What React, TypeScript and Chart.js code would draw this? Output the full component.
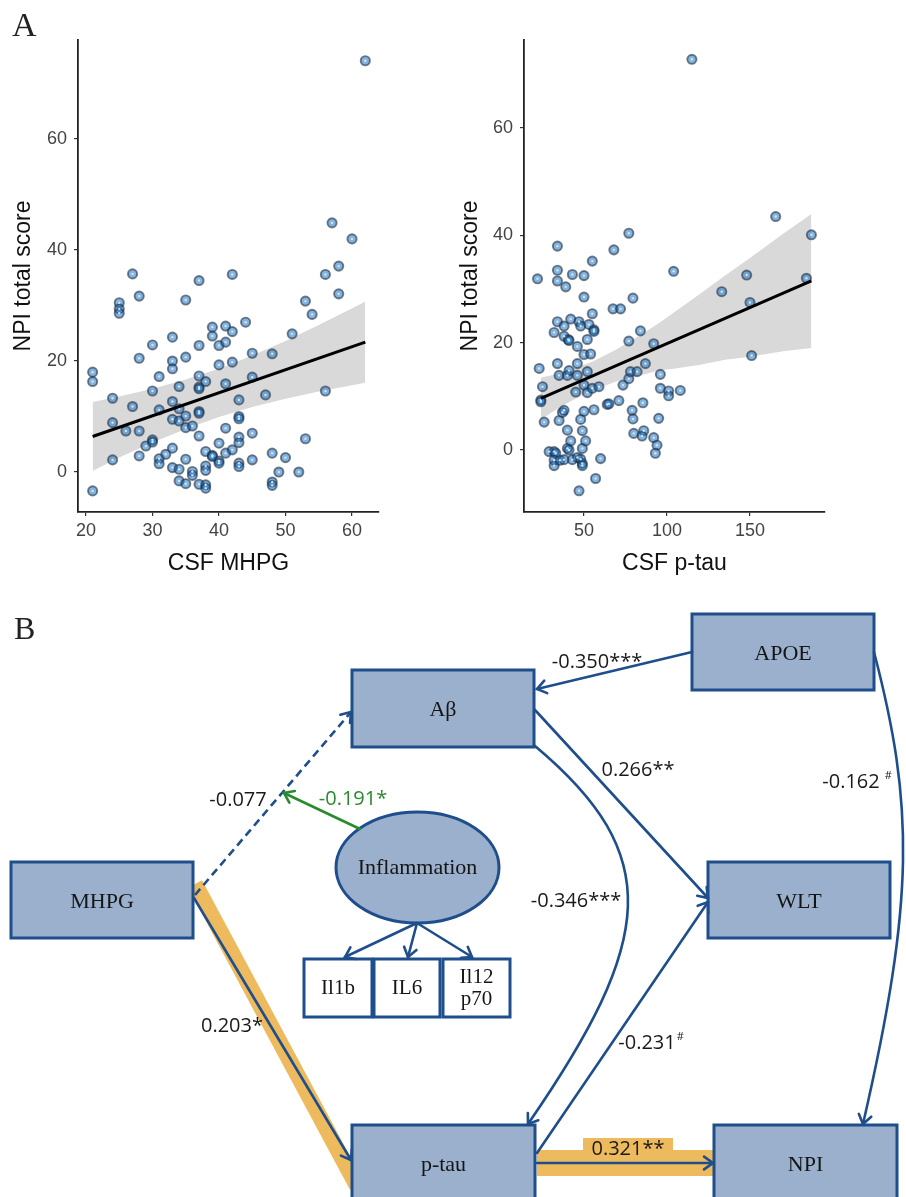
import React, { useEffect, useRef } from "react";
import { Chart, registerables } from "chart.js";

Chart.register(...registerables);

const SANS = '"Liberation Sans", Arial, sans-serif';
const SERIF = '"Liberation Serif", "Times New Roman", serif';
const COEF_FONT = '"Open Sans", sans-serif';

// ---------------- Panel A, left: CSF MHPG vs NPI total score ----------------
const mhpgX = [
  21, 21, 21, 24, 24, 24, 25, 25, 25, 26, 27, 27, 28, 28, 28, 28, 29, 30, 30, 30, 30,
  31, 31, 31, 31, 32, 33, 33, 33, 33, 33, 33, 33, 34, 34, 34, 34, 34, 35, 35, 35, 35, 35, 35,
  36, 36, 36, 37, 37, 37, 37, 37, 37, 37, 37, 37, 38, 38, 38, 38, 38, 38, 39, 39, 39, 39,
  40, 40, 40, 40, 40, 41, 41, 41, 41, 41, 42, 42, 42, 42, 43, 43, 43, 43, 43, 43, 43, 44,
  45, 45, 45, 45, 47, 48, 48, 48, 48, 49, 50, 51, 52, 53, 53, 54, 56, 56, 57, 58, 58, 60, 62,
];
const mhpgNpi = [
  18, 16.3, -3.4, 13.3, 8.9, 2.2, 30.5, 29.4, 28.6, 7.4, 35.7, 11.8, 31.7, 20.5, 7.4, 2.9, 4.7,
  22.9, 14.6, 5.8, 5.4, 17.2, 11.2, 2.4, 1.5, 3.2, 24.3, 20.0, 18.6, 12.7, 9.5, 4.3, 0.8,
  15.4, 11.4, 9.2, 0.5, -1.6, 31.0, 20.7, 10.1, 8.0, 2.3, -2.1, 8.3, 0.1, -0.6,
  34.5, 22.8, 17.3, 15.3, 15.0, 10.9, 10.6, 6.5, -2.2, 16.3, 3.7, 1.1, 0.3, -2.3, -2.9,
  26.1, 24.5, 3.0, 2.8, 22.8, 19.3, 5.2, 2.0, 1.6, 26.3, 23.4, 15.9, 7.9, 3.4,
  35.6, 25.3, 19.8, 4.0, 13.0, 10.0, 9.6, 6.3, 5.3, 1.6, 1.0, 27.0,
  21.4, 17.1, 7.0, 2.2, 13.9, 21.3, 3.4, -1.8, -2.4, 0.0, 2.6, 24.9, 0.0, 30.8, 6.0, 28.4,
  35.6, 14.6, 44.9, 37.1, 32.1, 42.0, 74.1,
];
const mhpgFitX = [21, 62];
const mhpgFitY = [6.4, 23.4];
const mhpgBandX = [21, 25, 30, 35, 40, 45, 50, 55, 62];
const mhpgBandHi = [12.6, 13.6, 15.0, 16.65, 18.6, 21.0, 23.6, 26.5, 30.7];
const mhpgBandLo = [0.2, 2.6, 5.3, 7.75, 9.9, 11.7, 13.2, 14.5, 16.1];
const mhpgTicks = [20, 30, 40, 50, 60];

// ---------------- Panel A, right: CSF p-tau vs NPI total score ----------------
const ptauX = [
  22, 23, 24, 24, 25, 26, 29, 32, 33, 32, 32, 32, 34, 34, 34, 34, 34, 35, 35, 35.5, 37,
  38, 38, 38, 38, 39, 40, 40, 40, 41, 40.5, 41, 41, 42, 42, 43, 43, 45, 46, 46, 46, 46,
  47, 47, 48, 48, 48, 49, 49, 49, 49, 50, 50, 50, 50, 50, 51, 52, 52, 52, 53, 54, 55, 55, 55,
  56, 56, 56, 57, 59, 60, 64, 65, 68, 67.5, 72, 71, 73.5, 77, 77, 77, 78, 79, 79.5, 79.5,
  80, 82, 84, 85.5, 86, 85, 87, 92, 92, 94, 93, 95, 96, 96, 101, 101, 104, 108, 115,
  133, 148, 150, 151, 165.5, 184, 187,
];
const ptauNpi = [
  31.9, 15.2, 9.3, 9.0, 11.8, 5.2, -0.3, -0.3, -0.6, -1.9, -2.9, 21.9, 38.0, 33.5, 31.5, 23.9,
  16.1, 13.9, 5.5, -1.9, 7.0, 7.4, 23.1, 21.2, -1.8, 30.4, 13.9, 3.7, 0.3, 0.0, 20.6, 20.4,
  14.8, 24.4, 1.7, 32.7, -1.8, 10.8, 19.3, 16.1, 13.9, -1.4, 23.9, -7.6, 23.1, 5.7, -1.7,
  3.6, 0.3, -2.5, -2.9, 32.5, 28.5, 17.8, 12.1, 7.2, 1.7, 20.6, 14.6, 10.7, 23.4, 17.9,
  35.2, 25.4, 11.5, 22.4, 22.1, 7.5, -5.3, 11.8, -1.6, 8.5, 8.6, 37.3, 26.3, 26.3, 9.2, 12.1,
  40.4, 20.3, 13.3, 14.6, 7.4, 5.8, 28.3, 3.1, 14.6, 22.2, 8.8, 3.6, 2.6, 16.1, 19.8, 2.3,
  0.9, -0.6, 5.9, 14.1, 11.5, 11.0, 10.1, 33.3, 11.1, 72.8, 29.5, 32.6, 27.5, 17.6, 43.5,
  32.0, 40.1,
];
const ptauFitX = [24, 187];
const ptauFitY = [9.6, 31.5];
const ptauBandX = [24, 30, 40, 55, 70, 85, 95, 105, 120, 135, 150, 170, 187];
const ptauBandHi = [13.5, 13.9, 14.75, 16.45, 18.8, 21.6, 23.6, 25.8, 29.1, 32.5, 35.8, 40.3, 44.0];
const ptauBandLo = [5.7, 6.9, 8.75, 11.15, 12.8, 14.0, 14.8, 15.2, 15.9, 16.8, 17.4, 18.4, 19.0];
const ptauTicks = [50, 100, 150];

const npiTicks = [0, 20, 40, 60];

// ---------------- Panel B: path model ----------------
const nodeLabels = ["MHPG", "Aβ", "APOE", "WLT", "p-tau", "NPI"];
const latentLabel = "Inflammation";
const indicatorLabels = [["Il1b"], ["IL6"], ["Il12", "p70"]];
// path coefficients, in edge order
const pathCoefs = ["-0.077", "-0.191*", "-0.350***", "0.266**", "-0.346***", "-0.231", "0.321**", "0.203*", "-0.162"];
const pathTrend = [false, false, false, false, false, true, false, false, true];

const BLUE = "#1F4E8C";
const BOXFILL = "#9BB0CD";
const ORANGE = "#EDBA5E";
const GREEN = "#2A8A2E";

type PanelProps = {
  left: number;
  width: number;
  xs: number[];
  ys: number[];
  fitX: number[];
  fitY: number[];
  bandX: number[];
  bandHi: number[];
  bandLo: number[];
  xMin: number;
  xMax: number;
  yMin: number;
  yMax: number;
  xTicks: number[];
  yTicks: number[];
  xTitle: string;
  yTitle: string;
  yAxisWidth: number;
  padRight: number;
  yTitlePad: number;
};

function ScatterPanel(p: PanelProps) {
  const ref = useRef<HTMLCanvasElement>(null);
  useEffect(() => {
    const pts = p.xs.map((x, i) => ({ x, y: p.ys[i] }));
    const chart = new Chart(ref.current as HTMLCanvasElement, {
      type: "line",
      data: {
        datasets: [
          {
            data: p.bandX.map((x, i) => ({ x, y: p.bandHi[i] })),
            borderWidth: 0,
            borderColor: "rgba(0,0,0,0)",
            pointRadius: 0,
            fill: "+1",
            backgroundColor: "#D9D9D9",
            order: 4,
          },
          {
            data: p.bandX.map((x, i) => ({ x, y: p.bandLo[i] })),
            borderWidth: 0,
            borderColor: "rgba(0,0,0,0)",
            pointRadius: 0,
            fill: false,
            order: 4,
          },
          {
            data: pts,
            showLine: false,
            pointRadius: 4.6,
            pointBackgroundColor: "rgba(20,110,190,0.52)",
            pointBorderColor: "rgba(30,45,65,0.6)",
            pointBorderWidth: 1.9,
            order: 2,
          },
          {
            data: pts,
            showLine: false,
            pointRadius: 1.2,
            pointBackgroundColor: "rgba(215,233,248,0.92)",
            pointBorderWidth: 0,
            order: 1,
          },
          {
            data: p.fitX.map((x, i) => ({ x, y: p.fitY[i] })),
            borderColor: "#000",
            borderWidth: 3,
            pointRadius: 0,
            fill: false,
            order: 0,
          },
        ],
      },
      options: {
        animation: false,
        responsive: false,
        events: [],
        plugins: { legend: { display: false }, tooltip: { enabled: false } },
        layout: { padding: { top: 40, right: p.padRight, left: 0, bottom: 0 } },
        scales: {
          x: {
            type: "linear",
            min: p.xMin,
            max: p.xMax,
            afterBuildTicks: (a: any) => {
              a.ticks = p.xTicks.map((v) => ({ value: v }));
            },
            afterFit: (s: any) => {
              s.height = 88;
            },
            grid: { drawOnChartArea: false, drawTicks: true, tickLength: 4, color: "#333", lineWidth: 1.2 },
            border: { display: true, color: "#222", width: 1.8 },
            ticks: { font: { family: SANS, size: 18 }, color: "#444", padding: 4, maxRotation: 0, autoSkip: false },
            title: { display: true, text: p.xTitle, font: { family: SANS, size: 23 }, color: "#111", padding: { top: 0, bottom: 23 } },
          },
          y: {
            type: "linear",
            min: p.yMin,
            max: p.yMax,
            afterBuildTicks: (a: any) => {
              a.ticks = p.yTicks.map((v) => ({ value: v }));
            },
            afterFit: (s: any) => {
              s.width = p.yAxisWidth;
            },
            grid: { drawOnChartArea: false, drawTicks: true, tickLength: 4, color: "#333", lineWidth: 1.2 },
            border: { display: true, color: "#222", width: 1.8 },
            ticks: { font: { family: SANS, size: 18 }, color: "#444", padding: 7, autoSkip: false },
            title: { display: true, text: p.yTitle, font: { family: SANS, size: 23 }, color: "#111", padding: { top: p.yTitlePad, bottom: 0 } },
          },
        },
      } as any,
    });
    return () => chart.destroy();
  }, []);
  return (
    <div style={{ position: "absolute", left: p.left, top: 0, width: p.width, height: 600 }}>
      <canvas ref={ref} width={p.width} height={600} style={{ display: "block", width: p.width, height: 600 }} />
    </div>
  );
}

// layout of the diagram (diagram units = canvas pixels of panel B)
const nodeRects = [
  [11, 262, 193, 338],
  [352, 70, 534, 147],
  [692, 14, 874, 90],
  [708, 262, 890, 338],
  [352, 525, 535, 601],
  [714, 525, 897, 601],
];
const latentEllipse = [417.5, 267.5, 81.5, 55.5];
const indicatorRects = [
  [304, 359, 372, 417],
  [374, 359, 440, 417],
  [443, 359, 510, 417],
];
const edgeGeom: any[] = [
  { from: [195, 295], to: [351, 112], dash: true },
  { from: [360, 229], to: [284, 193], color: GREEN },
  { from: [692, 52], to: [537, 89] },
  { from: [535, 110], to: [708, 298] },
  { from: [535, 146], c1: [665, 255], c2: [655, 340], to: [528, 524] },
  { from: [537, 553], to: [708, 302] },
  { from: [537, 563], to: [713, 563] },
  { from: [194, 298], to: [351, 560] },
  { from: [874, 52], c1: [914, 205], c2: [915, 298], to: [863, 524] },
  { from: [417, 323], to: [345, 357] },
  { from: [417, 323], to: [408, 357] },
  { from: [417, 323], to: [472, 357] },
];
const coefPos = [
  [238, 200],
  [353, 199],
  [597, 62],
  [638, 170],
  [576, 301],
  [647, 443],
  [628, 549],
  [232, 426],
  [851, 182],
];
// highlight band under MHPG -> p-tau, and under p-tau -> NPI
const mhpgHighlight = [[195, 284], [357, 586]];
const npiHighlight = [[537, 550, 714, 576], [583, 538, 673, 551]];

const diagramPlugin = {
  id: "pathDiagram",
  afterDraw(chart: any) {
    const ctx = chart.ctx as CanvasRenderingContext2D;
    const sx = chart.scales.x;
    const sy = chart.scales.y;
    const X = (v: number) => sx.getPixelForValue(v);
    const Y = (v: number) => sy.getPixelForValue(v);
    ctx.save();

    // highlighted (significant mediation) paths
    ctx.fillStyle = ORANGE;
    ctx.strokeStyle = ORANGE;
    ctx.lineWidth = 16;
    ctx.lineCap = "butt";
    ctx.beginPath();
    ctx.moveTo(X(mhpgHighlight[0][0]), Y(mhpgHighlight[0][1]));
    ctx.lineTo(X(mhpgHighlight[1][0]), Y(mhpgHighlight[1][1]));
    ctx.stroke();
    npiHighlight.forEach((r) => ctx.fillRect(X(r[0]), Y(r[1]), X(r[2]) - X(r[0]), Y(r[3]) - Y(r[1])));

    // observed variables
    ctx.lineWidth = 3;
    ctx.strokeStyle = BLUE;
    nodeRects.forEach((r, i) => {
      ctx.fillStyle = BOXFILL;
      ctx.fillRect(X(r[0]), Y(r[1]), X(r[2]) - X(r[0]), Y(r[3]) - Y(r[1]));
      ctx.strokeRect(X(r[0]), Y(r[1]), X(r[2]) - X(r[0]), Y(r[3]) - Y(r[1]));
      ctx.fillStyle = "#151515";
      ctx.font = `22px ${SERIF}`;
      ctx.textAlign = "center";
      ctx.textBaseline = "middle";
      ctx.fillText(nodeLabels[i], X((r[0] + r[2]) / 2), Y((r[1] + r[3]) / 2 + 2));
    });

    // latent variable
    const e = latentEllipse;
    ctx.beginPath();
    ctx.ellipse(X(e[0]), Y(e[1]), X(e[0] + e[2]) - X(e[0]), Y(e[1] + e[3]) - Y(e[1]), 0, 0, Math.PI * 2);
    ctx.fillStyle = BOXFILL;
    ctx.fill();
    ctx.stroke();
    ctx.fillStyle = "#151515";
    ctx.font = `22px ${SERIF}`;
    ctx.fillText(latentLabel, X(e[0]), Y(e[1] + 1));

    // indicators
    indicatorRects.forEach((r, i) => {
      ctx.fillStyle = "#fff";
      ctx.fillRect(X(r[0]), Y(r[1]), X(r[2]) - X(r[0]), Y(r[3]) - Y(r[1]));
      ctx.strokeRect(X(r[0]), Y(r[1]), X(r[2]) - X(r[0]), Y(r[3]) - Y(r[1]));
      ctx.fillStyle = "#151515";
      ctx.font = `21px ${SERIF}`;
      const lines = indicatorLabels[i];
      const cy = (r[1] + r[3]) / 2;
      lines.forEach((t, k) => {
        const yy = lines.length === 1 ? cy : cy - 11 + k * 22;
        ctx.fillText(t, X((r[0] + r[2]) / 2), Y(yy));
      });
    });

    // paths
    const head = (tx: number, ty: number, ang: number, col: string) => {
      const len = 11, spr = 0.62;
      ctx.setLineDash([]);
      ctx.strokeStyle = col;
      ctx.beginPath();
      ctx.moveTo(tx - len * Math.cos(ang - spr), ty - len * Math.sin(ang - spr));
      ctx.lineTo(tx, ty);
      ctx.lineTo(tx - len * Math.cos(ang + spr), ty - len * Math.sin(ang + spr));
      ctx.stroke();
    };
    ctx.lineWidth = 2.6;
    ctx.lineCap = "round";
    ctx.lineJoin = "miter";
    edgeGeom.forEach((g) => {
      const col = g.color || BLUE;
      ctx.strokeStyle = col;
      ctx.setLineDash(g.dash ? [8, 5] : []);
      ctx.lineCap = g.dash ? "butt" : "round";
      ctx.beginPath();
      ctx.moveTo(X(g.from[0]), Y(g.from[1]));
      let ang;
      if (g.c1) {
        ctx.bezierCurveTo(X(g.c1[0]), Y(g.c1[1]), X(g.c2[0]), Y(g.c2[1]), X(g.to[0]), Y(g.to[1]));
        ang = Math.atan2(Y(g.to[1]) - Y(g.c2[1]), X(g.to[0]) - X(g.c2[0]));
      } else {
        ctx.lineTo(X(g.to[0]), Y(g.to[1]));
        ang = Math.atan2(Y(g.to[1]) - Y(g.from[1]), X(g.to[0]) - X(g.from[0]));
      }
      ctx.stroke();
      ctx.lineCap = "round";
      head(X(g.to[0]), Y(g.to[1]), ang, col);
    });

    // coefficients
    ctx.textAlign = "center";
    ctx.textBaseline = "middle";
    pathCoefs.forEach((t, i) => {
      const pos = coefPos[i];
      ctx.font = `20px ${COEF_FONT}`;
      ctx.fillStyle = i === 1 ? GREEN : "#1a1a1a";
      ctx.fillText(t, X(pos[0]), Y(pos[1]));
      if (pathTrend[i]) {
        const w = ctx.measureText(t).width;
        ctx.font = `11px ${COEF_FONT}`;
        ctx.textAlign = "left";
        ctx.fillText("#", X(pos[0]) + w / 2 + (i === 8 ? 5 : 1), Y(pos[1] - 6));
        ctx.textAlign = "center";
      }
    });
    ctx.restore();
  },
};

function PathDiagram() {
  const ref = useRef<HTMLCanvasElement>(null);
  useEffect(() => {
    const chart = new Chart(ref.current as HTMLCanvasElement, {
      type: "scatter",
      data: { datasets: [] },
      options: {
        animation: false,
        responsive: false,
        events: [],
        layout: { padding: 0 },
        plugins: { legend: { display: false }, tooltip: { enabled: false } },
        scales: {
          x: { type: "linear", min: 0, max: 906, display: false },
          y: { type: "linear", min: 0, max: 597, reverse: true, display: false },
        },
      } as any,
      plugins: [diagramPlugin],
    });
    return () => chart.destroy();
  }, []);
  return (
    <div style={{ position: "absolute", left: 0, top: 600, width: 906, height: 597 }}>
      <canvas ref={ref} width={906} height={597} style={{ display: "block", width: 906, height: 597 }} />
    </div>
  );
}

export default function App() {
  return (
    <div style={{ position: "absolute", left: 0, top: 0, width: 906, height: 1197, background: "#fff", overflow: "hidden" }}>
      <ScatterPanel
        left={0}
        width={450}
        xs={mhpgX}
        ys={mhpgNpi}
        fitX={mhpgFitX}
        fitY={mhpgFitY}
        bandX={mhpgBandX}
        bandHi={mhpgBandHi}
        bandLo={mhpgBandLo}
        xMin={18.8}
        xMax={64.06}
        yMin={-7.2}
        yMax={77.84}
        xTicks={mhpgTicks}
        yTicks={npiTicks}
        xTitle="CSF MHPG"
        yTitle="NPI total score"
        yAxisWidth={78}
        padRight={71}
        yTitlePad={10}
      />
      <ScatterPanel
        left={450}
        width={456}
        xs={ptauX}
        ys={ptauNpi}
        fitX={ptauFitX}
        fitY={ptauFitY}
        bandX={ptauBandX}
        bandHi={ptauBandHi}
        bandLo={ptauBandLo}
        xMin={13.86}
        xMax={195.2}
        yMin={-11.55}
        yMax={76.4}
        xTicks={ptauTicks}
        yTicks={npiTicks}
        xTitle="CSF p-tau"
        yTitle="NPI total score"
        yAxisWidth={74}
        padRight={81}
        yTitlePad={7}
      />
      <PathDiagram />
      <div style={{ position: "absolute", left: 12, top: 8, font: `34px ${SERIF}`, lineHeight: "34px", color: "#222" }}>A</div>
      <div style={{ position: "absolute", left: 14, top: 612, font: `32px ${SERIF}`, lineHeight: "32px", color: "#222" }}>B</div>
    </div>
  );
}
